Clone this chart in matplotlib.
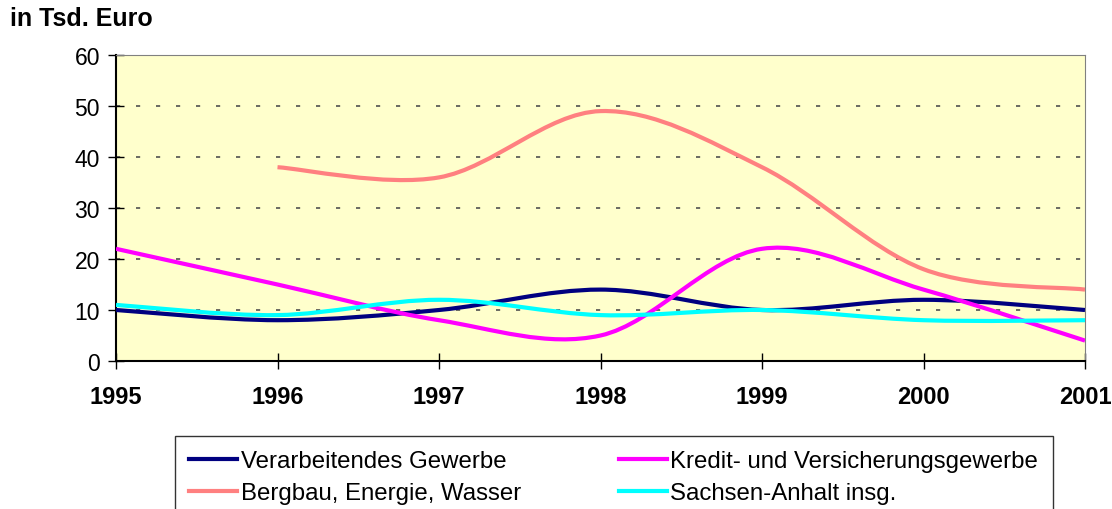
import numpy as np
import matplotlib
matplotlib.use("Agg")
import matplotlib.pyplot as plt
from matplotlib.path import Path
from matplotlib.patches import PathPatch
from matplotlib.lines import Line2D

plt.rcParams['font.family'] = ['Liberation Sans', 'DejaVu Sans']

years = [1995, 1996, 1997, 1998, 1999, 2000, 2001]
verarbeitend = [10, 8, 10, 14, 10, 12, 10]
kredit = [22, 15, 8, 5, 22, 14, 4]
bergbau = [np.nan, 38, 36, 49, 38, 18, 14]
sachsen = [11, 9, 12, 9, 10, 8, 8]

series = [
    ("Verarbeitendes Gewerbe", verarbeitend, "#000080"),
    ("Kredit- und Versicherungsgewerbe", kredit, "#FF00FF"),
    ("Bergbau, Energie, Wasser", bergbau, "#FF8080"),
    ("Sachsen-Anhalt insg.", sachsen, "#00FFFF"),
]

def smooth_path(xs, ys):
    # Excel-style smoothed line: cubic Bezier through the data points
    pts = [(x, y) for x, y in zip(xs, ys) if not np.isnan(y)]
    p = np.array(pts, float)
    n = len(p)
    verts = [tuple(p[0])]
    codes = [Path.MOVETO]
    for i in range(n - 1):
        p0 = p[i - 1] if i > 0 else p[i]
        p3 = p[i + 2] if i + 2 < n else p[i + 1]
        c1 = p[i] + (p[i + 1] - p0) / 6.0
        c2 = p[i + 1] - (p3 - p[i]) / 6.0
        verts += [tuple(c1), tuple(c2), tuple(p[i + 1])]
        codes += [Path.CURVE4] * 3
    return Path(verts, codes)

fig = plt.figure(figsize=(11.12, 5.10), dpi=100)
ax = fig.add_axes([116 / 1112, 1 - 362 / 510, (1085 - 116) / 1112, (362 - 56) / 510])
ax.set_facecolor("#FFFFCC")

xpos = np.arange(len(years))
for name, vals, col in series:
    ax.add_patch(PathPatch(smooth_path(xpos, vals), facecolor="none",
                           edgecolor=col, lw=3.0, capstyle="butt", zorder=3))

ax.set_xlim(0, len(years) - 1)
ax.set_ylim(0, 60)
ax.set_yticks(range(0, 61, 10))
ax.set_xticks(xpos)
ax.set_xticklabels([str(y) for y in years], fontweight="bold", fontsize=17)
ax.tick_params(axis="y", labelsize=16.5, direction="inout", length=11, width=1, pad=6)
ax.tick_params(axis="x", direction="inout", length=11, width=1, pad=12)
for y in range(10, 60, 10):
    ax.axhline(y, color="#505050", lw=1.2, ls=(0, (2.5, 9.5)), zorder=1)
ax.spines["left"].set_color("black")
ax.spines["bottom"].set_color("black")
ax.spines["left"].set_linewidth(1.5)
ax.spines["bottom"].set_linewidth(1.5)
ax.spines["top"].set_color("#808080")
ax.spines["right"].set_color("#808080")

fig.text(10 / 1112, 1 - 19 / 510, "in Tsd. Euro", fontsize=18, fontweight="bold",
         va="center", ha="left")

handles = [Line2D([], [], color=col, lw=3.0) for _, _, col in series]
labels = [name for name, _, _ in series]
order = [0, 2, 1, 3]
leg = fig.legend([handles[i] for i in order], [labels[i] for i in order],
                 loc="upper left", ncol=2,
                 bbox_to_anchor=(175 / 1112, 1 - 437 / 510),
                 fontsize=17.3, frameon=True, fancybox=False, edgecolor="black",
                 handlelength=2.0, handletextpad=0.15, borderpad=0.6,
                 labelspacing=0.4, columnspacing=4.05, borderaxespad=0.0)
leg.get_frame().set_linewidth(1.0)

fig.savefig("out.png", dpi=100, facecolor="white")
